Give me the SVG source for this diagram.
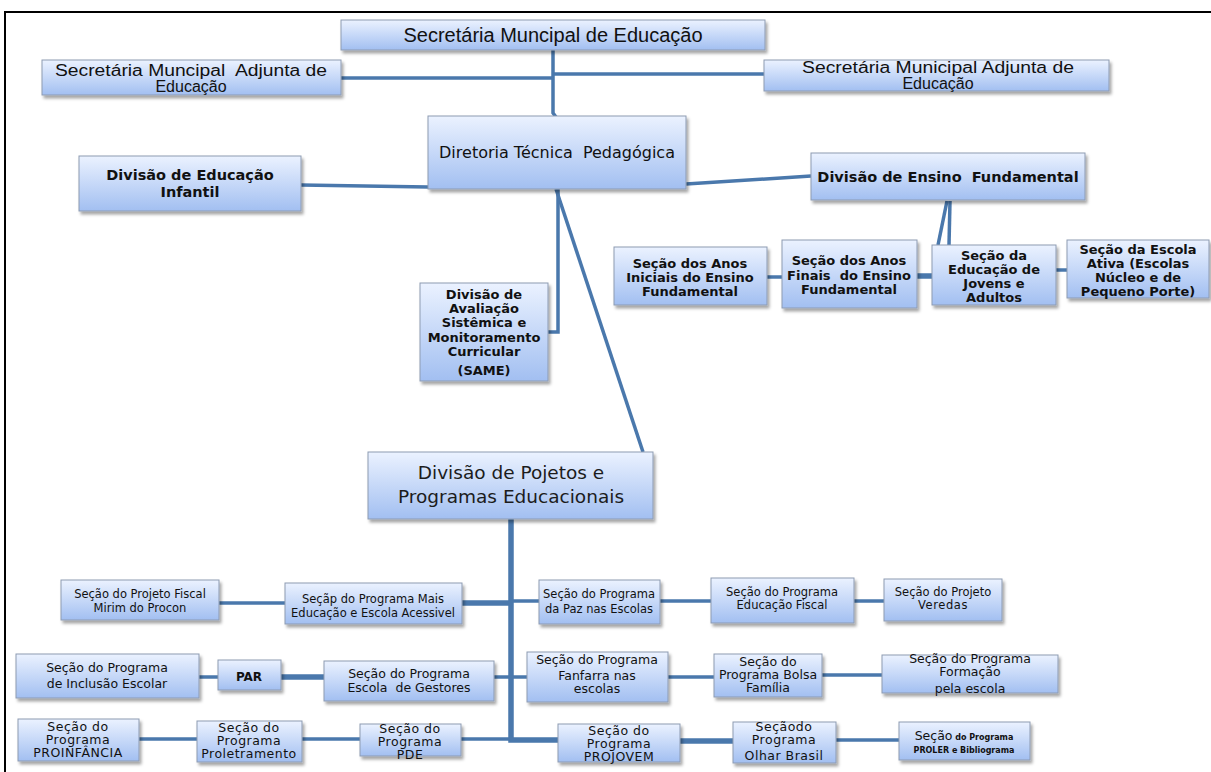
<svg xmlns="http://www.w3.org/2000/svg" width="1211" height="772" viewBox="0 0 1211 772">
<defs>
<linearGradient id="g" x1="0" y1="0" x2="0" y2="1">
<stop offset="0" stop-color="#ebf2ff"/>
<stop offset="1" stop-color="#a2bff1"/>
</linearGradient>
<filter id="sh" x="-10%" y="-10%" width="130%" height="140%">
<feDropShadow dx="2" dy="3" stdDeviation="1.5" flood-color="#000" flood-opacity="0.35"/>
</filter>
<style>
.box{fill:url(#g);stroke:#8d9bb2;stroke-width:1;filter:url(#sh)}
.c{stroke:#4a78ac;stroke-width:3.5;fill:none}
.ck{stroke:#4a78ac;stroke-width:5.5;fill:none}
text{text-anchor:middle;fill:#111;white-space:pre}
.ls{font-family:"Liberation Sans",Arial,sans-serif;font-size:16px}
.dn{font-family:"DejaVu Sans",Verdana,sans-serif;font-size:16px}
.db{font-family:"DejaVu Sans",Verdana,sans-serif;font-weight:bold;font-size:14.5px}
.db13{font-family:"DejaVu Sans",Verdana,sans-serif;font-weight:bold;font-size:13px}
.dv{font-family:"DejaVu Sans",Verdana,sans-serif;font-weight:bold;font-size:13px}
.big{font-family:"DejaVu Sans",Verdana,sans-serif;font-size:18.5px;fill:#1c1c1c}
.r1{font-family:"DejaVu Sans",Verdana,sans-serif;font-size:11.5px}
.r2{font-family:"DejaVu Sans",Verdana,sans-serif;font-size:12.5px}
.r3{font-family:"DejaVu Sans",Verdana,sans-serif;font-size:12.5px;letter-spacing:0.5px}
.tiny{font-family:"DejaVu Sans",Verdana,sans-serif;font-size:8px;font-weight:bold}
</style>
</defs>
<rect width="1211" height="772" fill="#fff"/>
<path d="M4,12 H1211 M5,12 V772" stroke="#000" stroke-width="2" fill="none"/>

<g id="connectors">
<path class="c" d="M553,50 V113 L556,117"/>
<path class="c" d="M341,78 H553"/>
<path class="c" d="M553,74 H764"/>
<path class="c" d="M301,185 L428,187"/>
<path class="c" d="M686,184 L811,176"/>
<path class="c" d="M558,189 V332 H548"/>
<path class="c" d="M556,189 L643,452"/>
<path class="c" d="M947,201 L938,245"/>
<path class="c" d="M950,201 L949,245"/>
<path class="c" d="M767,277 H782"/>
<path class="ck" d="M917,276 H932"/>
<path class="c" d="M1056,270 H1067"/>
<path class="ck" d="M511,519 V740 H558"/>
<path class="c" d="M219,603 H285"/>
<path class="ck" d="M462,603 H511"/>
<path class="c" d="M511,601 H539"/>
<path class="c" d="M660,601 H711"/>
<path class="c" d="M854,601 H884"/>
<path class="c" d="M199,677 H218"/>
<path class="ck" d="M281,677 H324"/>
<path class="c" d="M494,677 H527"/>
<path class="c" d="M668,677 H714"/>
<path class="c" d="M822,675 H882"/>
<path class="c" d="M139,739 H197"/>
<path class="c" d="M302,739 H360"/>
<path class="c" d="M461,739 H511"/>
<path class="ck" d="M680,741 H733"/>
<path class="c" d="M836,740 H899"/>
</g>

<g id="n-secretaria">
<rect class="box" x="341" y="20" width="424" height="30"/>
<text class="ls" x="553" y="42" style="font-size:20px">Secretária Muncipal de Educação</text>
</g>
<g id="n-adjunta-esq">
<rect class="box" x="42" y="60" width="299" height="35"/>
<text class="ls" x="191" y="76" textLength="272" lengthAdjust="spacingAndGlyphs">Secretária Muncipal  Adjunta de</text>
<text class="ls" x="191" y="92">Educação</text>
</g>
<g id="n-adjunta-dir">
<rect class="box" x="764" y="60" width="345" height="31"/>
<text class="ls" x="938" y="73" textLength="272" lengthAdjust="spacingAndGlyphs">Secretária Municipal Adjunta de</text>
<text class="ls" x="938" y="89">Educação</text>
</g>
<g id="n-diretoria">
<rect class="box" x="428" y="116" width="258" height="73"/>
<text class="dn" x="557" y="158">Diretoria Técnica  Pedagógica</text>
</g>
<g id="n-infantil">
<rect class="box" x="79" y="156" width="222" height="55"/>
<text class="db" x="190" y="180">Divisão de Educação</text>
<text class="db" x="190" y="197">Infantil</text>
</g>
<g id="n-ensino">
<rect class="box" x="811" y="153" width="274" height="47"/>
<text class="db" x="948" y="182">Divisão de Ensino  Fundamental</text>
</g>
<g id="n-avaliacao">
<rect class="box" x="420" y="283" width="128" height="98"/>
<text class="dv" x="484" y="299">Divisão de</text>
<text class="dv" x="484" y="313">Avaliação</text>
<text class="dv" x="484" y="327">Sistêmica e</text>
<text class="dv" x="484" y="342">Monitoramento</text>
<text class="dv" x="484" y="356">Curricular</text>
<text class="dv" x="484" y="375">(SAME)</text>
</g>
<g id="n-iniciais">
<rect class="box" x="614" y="247" width="153" height="58"/>
<text class="db13" x="690" y="268">Seção dos Anos</text>
<text class="db13" x="690" y="282">Iniciais do Ensino</text>
<text class="db13" x="690" y="296">Fundamental</text>
</g>
<g id="n-finais">
<rect class="box" x="782" y="240" width="135" height="68"/>
<text class="db13" x="849" y="265">Seção dos Anos</text>
<text class="db13" x="849" y="280">Finais  do Ensino</text>
<text class="db13" x="849" y="294">Fundamental</text>
</g>
<g id="n-eja">
<rect class="box" x="932" y="245" width="124" height="60"/>
<text class="db13" x="994" y="260">Seção da</text>
<text class="db13" x="994" y="274">Educação de</text>
<text class="db13" x="994" y="288">Jovens e</text>
<text class="db13" x="994" y="302">Adultos</text>
</g>
<g id="n-ativa">
<rect class="box" x="1067" y="240" width="142" height="58"/>
<text class="db13" x="1138" y="254">Seção da Escola</text>
<text class="db13" x="1138" y="268">Ativa (Escolas</text>
<text class="db13" x="1138" y="282">Núcleo e de</text>
<text class="db13" x="1138" y="296">Pequeno Porte)</text>
</g>
<g id="n-projetos">
<rect class="box" x="368" y="452" width="285" height="67"/>
<text class="big" x="511" y="479">Divisão de Pojetos e</text>
<text class="big" x="511" y="503">Programas Educacionais</text>
</g>

<g id="n-fiscal-mirim">
<rect class="box" x="61" y="580" width="158" height="40"/>
<text class="r1" x="140" y="598">Seção do Projeto Fiscal</text>
<text class="r1" x="140" y="612">Mirim do Procon</text>
</g>
<g id="n-mais-educacao">
<rect class="box" x="285" y="583" width="177" height="41"/>
<text class="r1" x="373" y="603">Seçãp do Programa Mais</text>
<text class="r1" x="373" y="617">Educação e Escola Acessivel</text>
</g>
<g id="n-paz">
<rect class="box" x="539" y="580" width="121" height="44"/>
<text class="r1" x="599" y="598">Seção do Programa</text>
<text class="r1" x="599" y="613">da Paz nas Escolas</text>
</g>
<g id="n-edu-fiscal">
<rect class="box" x="711" y="578" width="143" height="45"/>
<text class="r1" x="782" y="596">Seção do Programa</text>
<text class="r1" x="782" y="609">Educação Fiscal</text>
</g>
<g id="n-veredas">
<rect class="box" x="884" y="579" width="118" height="42"/>
<text class="r1" x="943" y="596">Seção do Projeto</text>
<text class="r1" x="943" y="609" style="letter-spacing:0.6px">Veredas</text>
</g>

<g id="n-inclusao">
<rect class="box" x="16" y="654" width="183" height="44"/>
<text class="r2" x="107" y="672">Seção do Programa</text>
<text class="r2" x="107" y="688">de Inclusão Escolar</text>
</g>
<g id="n-par">
<rect class="box" x="218" y="660" width="63" height="30"/>
<text class="db13" x="249" y="681" style="font-size:12px">PAR</text>
</g>
<g id="n-gestores">
<rect class="box" x="324" y="661" width="170" height="40"/>
<text class="r2" x="409" y="678">Seção do Programa</text>
<text class="r2" x="409" y="692">Escola  de Gestores</text>
</g>
<g id="n-fanfarra">
<rect class="box" x="527" y="652" width="141" height="50"/>
<text class="r2" x="597" y="664">Seção do Programa</text>
<text class="r2" x="597" y="680">Fanfarra nas</text>
<text class="r2" x="597" y="693">escolas</text>
</g>
<g id="n-bolsa">
<rect class="box" x="714" y="654" width="108" height="43"/>
<text class="r2" x="768" y="666">Seção do</text>
<text class="r2" x="768" y="679">Programa Bolsa</text>
<text class="r2" x="768" y="692">Família</text>
</g>
<g id="n-formacao">
<rect class="box" x="882" y="655" width="176" height="38"/>
<text class="r2" x="970" y="663">Seção do Programa</text>
<text class="r2" x="970" y="676">Formação</text>
<text class="r2" x="970" y="693">pela escola</text>
</g>

<g id="n-proinfancia">
<rect class="box" x="18" y="719" width="121" height="42"/>
<text class="r3" x="78" y="731">Seção do</text>
<text class="r3" x="78" y="744">Programa</text>
<text class="r3" x="78" y="757">PROINFÂNCIA</text>
</g>
<g id="n-proletramento">
<rect class="box" x="197" y="721" width="105" height="41"/>
<text class="r3" x="249" y="732">Seção do</text>
<text class="r3" x="249" y="745">Programa</text>
<text class="r3" x="249" y="758">Proletramento</text>
</g>
<g id="n-pde">
<rect class="box" x="360" y="724" width="101" height="32"/>
<text class="r3" x="410" y="733">Seção do</text>
<text class="r3" x="410" y="746">Programa</text>
<text class="r3" x="410" y="759">PDE</text>
</g>
<g id="n-projovem">
<rect class="box" x="558" y="724" width="122" height="38"/>
<text class="r3" x="619" y="735">Seção do</text>
<text class="r3" x="619" y="748">Programa</text>
<text class="r3" x="619" y="761">PROJOVEM</text>
</g>
<g id="n-olhar">
<rect class="box" x="733" y="722" width="103" height="41"/>
<text class="r3" x="784" y="731">Seçãodo</text>
<text class="r3" x="784" y="744">Programa</text>
<text class="r3" x="784" y="760">Olhar Brasil</text>
</g>
<g id="n-proler">
<rect class="box" x="899" y="722" width="131" height="38"/>
<text x="964" y="740"><tspan class="r2">Seção</tspan><tspan class="tiny"> do Programa</tspan></text>
<text class="tiny" x="964" y="753">PROLER e Bibliograma</text>
</g>
</svg>
